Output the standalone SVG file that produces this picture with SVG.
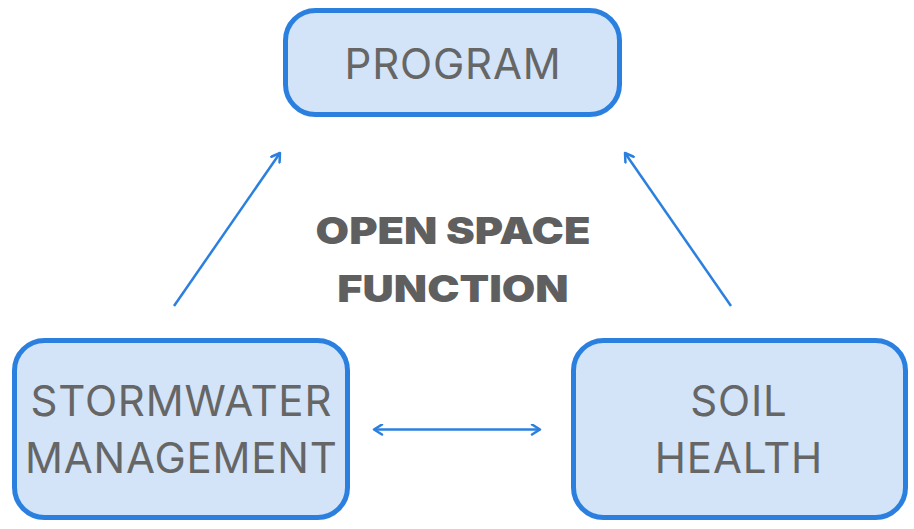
<svg xmlns="http://www.w3.org/2000/svg" width="914" height="529" viewBox="0 0 914 529">
<style>
.box{fill:#d3e4f8;stroke:#2b80df;stroke-width:5}
.lbl{font-family:Inter,"Liberation Sans",sans-serif;font-size:42px;letter-spacing:0.8px;fill:#666666;text-anchor:middle}
.title{font-family:Inter,"Liberation Sans",sans-serif;font-size:37px;font-weight:900;fill:#5f5f5f;text-anchor:middle}
.conn{stroke:#2b80df;stroke-width:2.5;fill:none}
</style>
<defs>
<marker id="arr" viewBox="0 0 12 12" refX="10" refY="6" markerWidth="12" markerHeight="12" markerUnits="userSpaceOnUse" orient="auto-start-reverse">
<path d="M2,1 L10,6 L2,11" fill="none" stroke="#2b80df" stroke-width="2.5" stroke-linecap="round" stroke-linejoin="round"/>
</marker>
</defs>
<g id="program">
<rect class="box" x="285.5" y="10.5" width="334" height="104" rx="30"/>
<text class="lbl" x="453" y="79">PROGRAM</text>
</g>
<g id="stormwater">
<rect class="box" x="14.5" y="340.5" width="333" height="177" rx="30"/>
<text class="lbl" x="181.4" y="416">STORMWATER</text>
<text class="lbl" x="181.4" y="473">MANAGEMENT</text>
</g>
<g id="soil">
<rect class="box" x="573.5" y="340.5" width="332" height="177" rx="30"/>
<text class="lbl" x="739" y="416">SOIL</text>
<text class="lbl" x="739" y="473">HEALTH</text>
</g>
<g id="center-label" transform="translate(453,0) scale(1.17,1)">
<text class="title" x="0" y="244">OPEN SPACE</text>
<text class="title" x="0" y="302">FUNCTION</text>
</g>
<g id="connectors">
<line class="conn" x1="174" y1="306" x2="280" y2="153" marker-end="url(#arr)"/>
<line class="conn" x1="731" y1="306" x2="625" y2="153" marker-end="url(#arr)"/>
<line class="conn" x1="374" y1="429.5" x2="540" y2="429.5" marker-start="url(#arr)" marker-end="url(#arr)"/>
</g>
</svg>
